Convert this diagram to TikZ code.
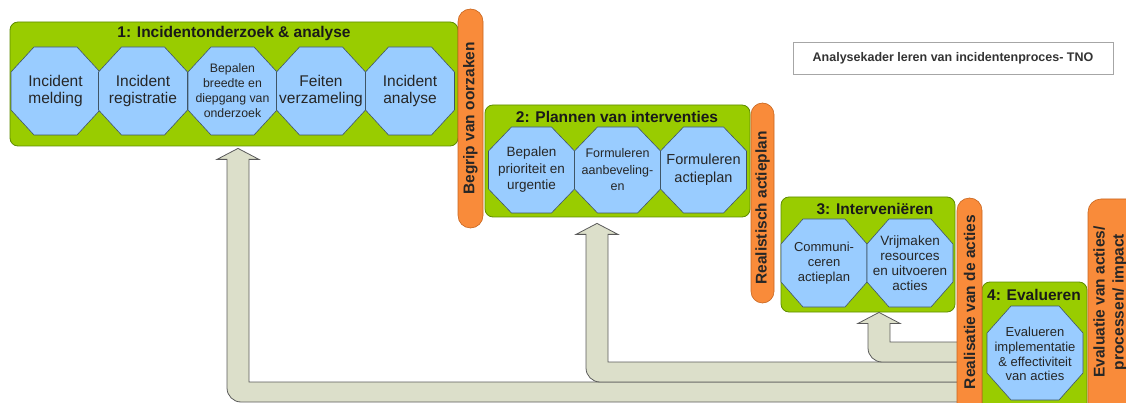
\documentclass[tikz,border=0pt]{standalone}
\usepackage{fontspec}
\setmainfont{Liberation Sans}
\usetikzlibrary{positioning}
\usetikzlibrary{calc}
\definecolor{fasegroen}{HTML}{99CC00}
\definecolor{faserand}{HTML}{5E8C00}
\definecolor{octblauw}{HTML}{99CCFF}
\definecolor{octrand}{HTML}{3F5566}
\definecolor{baloranje}{HTML}{F98B3A}
\definecolor{balrand}{HTML}{C8661F}
\definecolor{pijlvul}{HTML}{DCDFCA}
\definecolor{pijlrand}{HTML}{5A5A5A}
\tikzstyle{fase}=[draw=faserand, fill=fasegroen, rounded corners=8pt, line width=0.8pt, inner sep=0pt]
\tikzstyle{fasetitel}=[font=\fontsize{15.5}{17}\selectfont\bfseries, text=black!90, inner sep=0pt]
\tikzstyle{oct}=[draw=octrand, fill=octblauw, line width=0.6pt]
\tikzstyle{octtekst}=[align=center, inner sep=0pt, text=black!85]
\tikzstyle{balk}=[draw=balrand, fill=baloranje, line width=0.6pt, inner sep=0pt, rotate=90]
\tikzstyle{balktekst}=[rotate=90, font=\fontsize{15.5}{19}\selectfont\bfseries, align=center, text=black!85, inner sep=0pt]
\tikzstyle{terugkoppeling}=[draw=pijlrand, fill=pijlvul, line width=0.8pt]
% octagon: centre x, centre y, half width, half height, cut x, cut y
\newcommand{\achthoek}[6]{%
  \path[oct] (#1-#3+#5,#2-#4) -- (#1+#3-#5,#2-#4) -- (#1+#3,#2-#4+#6) -- (#1+#3,#2+#4-#6)
    -- (#1+#3-#5,#2+#4) -- (#1-#3+#5,#2+#4) -- (#1-#3,#2+#4-#6) -- (#1-#3,#2-#4+#6) -- cycle;}

\begin{document}
\begin{tikzpicture}[x=1pt,y=-1pt]
    \useasboundingbox (0,0) rectangle (1126,403);

    % fasen
    \node[fase, minimum width=448pt, minimum height=124pt] (fase1) at (234,84) {};
    \node[fase, minimum width=265pt, minimum height=112pt] (fase2) at (617.5,161) {};
    \node[fase, minimum width=174pt, minimum height=115pt] (fase3) at (868,254.5) {};
    \node[fase, minimum width=105pt, minimum height=148pt] (fase4) at (1034.5,356) {};

    \node[fasetitel] (titel1) at (234,33) {1: Incidentonderzoek \& analyse};
    \node[fasetitel] (titel2) at (617,117) {2: Plannen van interventies};
    \node[fasetitel] (titel3) at (875,209) {3: Interveniëren};
    \node[fasetitel] (titel4) at (1034,295) {4: Evalueren};

    \foreach \x/\naam/\fs/\ls/\tekst in {55.5/melding/15.5/17.5/{Incident\\melding}, 143/registratie/15.5/17.5/{Incident\\registratie}, 232.5/bepalen/12.3/15/{Bepalen\\breedte en\\diepgang van\\onderzoek}, 321/feiten/15.5/17.5/{Feiten\\verzameling}, 410/analyse/15.5/17.5/{Incident\\analyse}}
    {
        \achthoek{\x}{91}{44.5}{44}{23}{25}
        \node[octtekst, font=\fontsize{\fs}{\ls}\selectfont] (\naam) at (\x,91) {\tekst};
    }

    \foreach \x/\naam/\fs/\ls/\tekst in {531.5/prioriteit/13.5/16.5/{Bepalen\\prioriteit en\\urgentie}, 617.5/aanbeveling/12.5/16.5/{Formuleren\\aanbeveling-\\en}, 703.5/actieplan/14.5/18/{Formuleren\\actieplan}}
    {
        \achthoek{\x}{170}{43}{43}{23}{24}
        \node[octtekst, font=\fontsize{\fs}{\ls}\selectfont] (\naam) at (\x,170) {\tekst};
    }

    \foreach \x/\naam/\fs/\ls/\tekst in {824/communiceren/13/15/{Communi-\\ceren\\actieplan}, 910/vrijmaken/13.5/15/{Vrijmaken\\resources\\en uitvoeren\\acties}}
    {
        \achthoek{\x}{263}{43}{44}{22}{25}
        \node[octtekst, font=\fontsize{\fs}{\ls}\selectfont] (\naam) at (\x,263) {\tekst};
    }

    \achthoek{1035}{353}{48}{47}{24}{27}
    \node[octtekst, font=\fontsize{13}{14.8}\selectfont] (evalueren) at (1035,354) {Evalueren\\implementatie\\\& effectiviteit\\van acties};

    % terugkoppelingen
    \foreach \cx/\doel/\gap/\band in {238/fase1/2/382, 597/fase2/6/362, 879/fase3/0/342}
    {
        \coordinate (punt) at ($(\cx,0 |- \doel.south)+(0,\gap)$);
        \path[terugkoppeling] ($(punt)+(21,11)$) -- (punt) -- ($(punt)+(-21,11)$) -- ($(punt)+(-11,11)$)
            -- (\cx-11,\band) [rounded corners=14pt] -- (\cx-11,\band+20) -- (\cx+30,\band+20)
            [sharp corners] -- (968,\band+20) -- (968,\band) -- (\cx+11,\band) -- ($(punt)+(11,11)$) -- cycle;
    }

    % balken
    \node[balk, minimum width=219pt, minimum height=25pt, rounded corners=12.5pt] (balk1) at (470.5,118.5) {};
    \node[balk, minimum width=200pt, minimum height=23pt, rounded corners=11.5pt] (balk2) at (762.5,203) {};
    \node[balk, minimum width=232pt, minimum height=25pt, rounded corners=12.5pt] (balk3) at (969.5,314) {};
    \node[balk, minimum width=232pt, minimum height=56pt, rounded corners=13pt] (balk4) at (1116,315) {};

    \node[balktekst] (begrip) at (balk1) {Begrip van oorzaken};
    \node[balktekst] (realistisch) at (762.5,208) {Realistisch actieplan};
    \node[balktekst] (realisatie) at (969.5,302) {Realisatie van de acties};
    \node[balktekst] (evaluatie) at (1110,302) {Evaluatie van acties/\\processen/ impact};

    \node[draw=gray!70, line width=0.6pt, minimum width=320pt, minimum height=32pt, font=\fontsize{12.5}{14}\selectfont\bfseries, text=black!80] (kader) at (953,58) {Analysekader leren van incidentenproces- TNO};

\end{tikzpicture}
\end{document}
